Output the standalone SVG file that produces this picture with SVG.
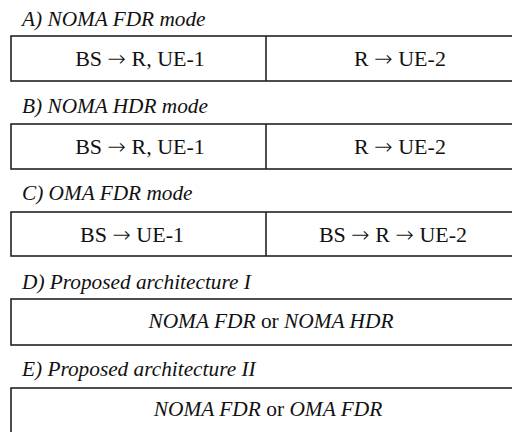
<svg xmlns="http://www.w3.org/2000/svg" width="512" height="432" viewBox="0 0 512 432">
<style>
.t{font-style:italic;font-size:21.3px;fill:#111}
.b{font-size:22px;fill:#111;text-anchor:middle}
.s{font-size:21.4px}
.bi{font-style:italic}
.ar{font-family:'DejaVu Sans ExtraLight','DejaVu Sans',sans-serif;font-weight:200}
.box{fill:#fff;stroke:#222;stroke-width:1.6}
.div{stroke:#222;stroke-width:1.6}
</style>
<rect width="512" height="432" fill="#fff"/>
<g font-family="'Liberation Serif', 'DejaVu Serif', serif">
<g id="A">
<text class="t" x="22" y="26">A) NOMA FDR mode</text>
<rect class="box" x="11" y="36" width="540" height="45"/>
<line class="div" x1="266" y1="36" x2="266" y2="81"/>
<text class="b" x="140" y="66">BS <tspan class="ar">→</tspan> R, UE-1</text>
<text class="b" x="400" y="66">R <tspan class="ar">→</tspan> UE-2</text>
</g>
<g id="B">
<text class="t" x="22" y="113">B) NOMA HDR mode</text>
<rect class="box" x="11" y="124" width="540" height="45"/>
<line class="div" x1="266" y1="124" x2="266" y2="169"/>
<text class="b" x="140" y="154">BS <tspan class="ar">→</tspan> R, UE-1</text>
<text class="b" x="400" y="154">R <tspan class="ar">→</tspan> UE-2</text>
</g>
<g id="C">
<text class="t" x="22" y="200">C) OMA FDR mode</text>
<rect class="box" x="11" y="212" width="540" height="44"/>
<line class="div" x1="266" y1="212" x2="266" y2="256"/>
<text class="b" x="132" y="242">BS <tspan class="ar">→</tspan> UE-1</text>
<text class="b" x="393" y="242">BS <tspan class="ar">→</tspan> R <tspan class="ar">→</tspan> UE-2</text>
</g>
<g id="D">
<text class="t" x="22" y="289">D) Proposed architecture I</text>
<rect class="box" x="11" y="299" width="540" height="46"/>
<text class="b s" x="271" y="328"><tspan class="bi">NOMA FDR</tspan> or <tspan class="bi">NOMA HDR</tspan></text>
</g>
<g id="E">
<text class="t" x="22" y="376">E) Proposed architecture II</text>
<rect class="box" x="11" y="388" width="540" height="60"/>
<text class="b s" x="268" y="416"><tspan class="bi">NOMA FDR</tspan> or <tspan class="bi">OMA FDR</tspan></text>
</g>
</g>
<g id="connectors"/>
</svg>
